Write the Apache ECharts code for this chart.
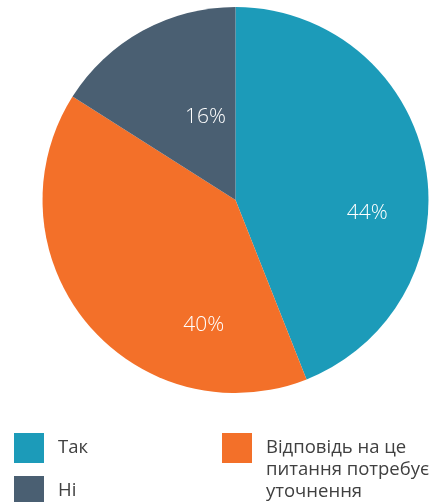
<!DOCTYPE html>
<html>
<head>
<meta charset="utf-8">
<script src="https://cdn.jsdelivr.net/npm/echarts@6/dist/echarts.min.js"></script>
<style>
html,body{margin:0;padding:0;background:#fff;}
#chart{width:433px;height:502px;}
</style>
</head>
<body>
<div id="chart"></div>
<script>
const categories = ['Так', 'Відповідь на це питання потребує уточнення', 'Ні'];
const values = [44, 40, 16];
const colors = ['#1c9bb9', '#f37029', '#4a5f72'];

const labelOffsets = [[34, 32], [45, 62], [18, 4]];
const wrapped = {
  'Відповідь на це питання потребує уточнення': '\n\nВідповідь на це\nпитання потребує\nуточнення'
};

const chart = echarts.init(document.getElementById('chart'));
const baseLegend = {
  orient: 'vertical',
  icon: 'rect',
  itemWidth: 30,
  itemHeight: 30,
  itemGap: 13,
  padding: 0,
  selectedMode: false,
  textStyle: {
    color: '#404040',
    fontSize: 18.5,
    fontFamily: 'Open Sans',
    lineHeight: 22,
    padding: [0, 0, 0, 9]
  }
};
chart.setOption({
  animation: false,
  color: colors,
  legend: [
    Object.assign({}, baseLegend, {
      left: 14, top: 433, height: 90,
      data: [categories[0], categories[2]]
    }),
    Object.assign({}, baseLegend, {
      left: 222, top: 393, height: 130,
      data: [categories[1]],
      formatter: n => wrapped[n] || n
    })
  ],
  series: [{
    type: 'pie',
    center: [235.5, 200],
    radius: [0, 193],
    startAngle: 90,
    clockwise: true,
    silent: true,
    label: {
      show: true,
      position: 'inside',
      color: '#ffffff',
      fontSize: 21,
      fontWeight: 300,
      fontFamily: 'Open Sans',
      formatter: p => p.value + '%'
    },
    labelLine: {show: false},
    itemStyle: {borderWidth: 0},
    data: categories.map((c, i) => ({
      name: c,
      value: values[i],
      label: {offset: labelOffsets[i]}
    }))
  }]
});
</script>
</body>
</html>
